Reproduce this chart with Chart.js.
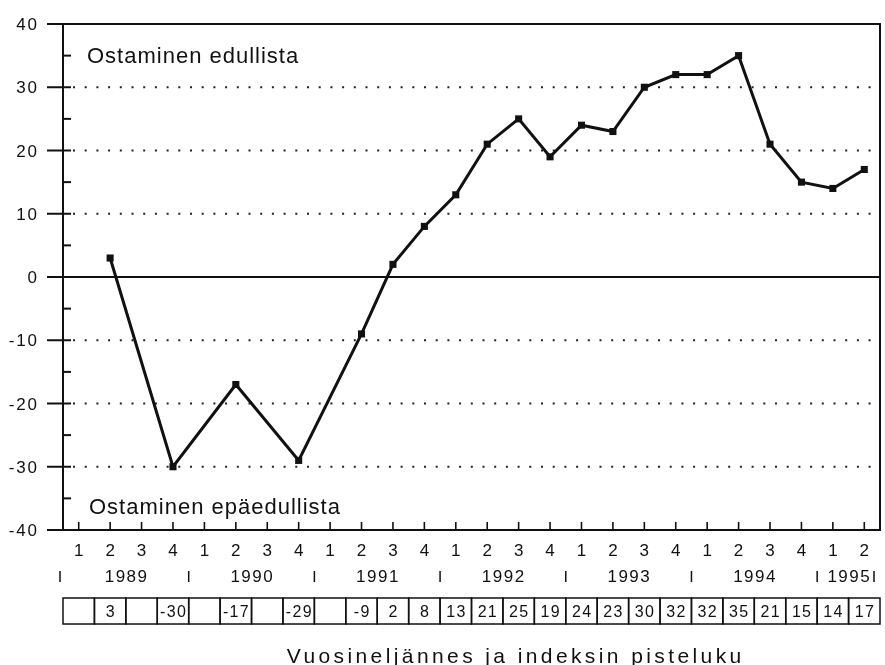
<!DOCTYPE html>
<html lang="fi">
<head>
<meta charset="utf-8">
<title>Ostaminen edullista / epäedullista</title>
<script src="https://cdn.jsdelivr.net/npm/chart.js@4.4.1/dist/chart.umd.min.js"></script>
<style>
  html, body { margin: 0; padding: 0; background: #fff; }
  #kuvio { display: block; }
</style>
</head>
<body>
<canvas id="kuvio" width="885" height="665"></canvas>
<script>
// Aineisto
const neljannekset = ["1","2","3","4","1","2","3","4","1","2","3","4","1","2","3","4","1","2","3","4","1","2","3","4","1","2"];
const vuodet = ["1989","1990","1991","1992","1993","1994","1995"];
const pisteluku = [null,3,null,-30,null,-17,null,-29,null,-9,2,8,13,21,25,19,24,23,30,32,32,35,21,15,14,17];
const yArvot = [40,30,20,10,0,-10,-20,-30,-40];
const pisteviivat = [30,20,10,-10,-20,-30];
const tekstiYla = "Ostaminen edullista";
const tekstiAla = "Ostaminen epäedullista";
const akselinNimi = "Vuosineljännes ja indeksin pisteluku";

const FONTTI = '"Liberation Sans", Arial, Helvetica, sans-serif';
const MUSTA = "#111";

// Apufunktio tekstille (kirjainväli jos selain tukee)
const teksti = (ctx, t, x, y, koko, tasaus, vali) => {
  ctx.font = `${koko}px ${FONTTI}`;
  ctx.textAlign = tasaus;
  ctx.textBaseline = "alphabetic";
  if ("letterSpacing" in ctx) ctx.letterSpacing = `${vali}px`;
  let xx = x;
  // letterSpacing lisää välin myös viimeisen merkin perään
  if ("letterSpacing" in ctx && tasaus === "center") xx += vali / 2;
  if ("letterSpacing" in ctx && tasaus === "right") xx += vali;
  ctx.fillText(t, xx, y);
  if ("letterSpacing" in ctx) ctx.letterSpacing = "0px";
};

// Kehys, viivat ja taulukko piirretään skaalojen avulla
const kehys = {
  id: "kehys",
  beforeDatasetsDraw(chart) {
    const { ctx, chartArea: a, scales: { x, y } } = chart;
    ctx.save();

    // Pisteviivat
    ctx.strokeStyle = "#222";
    ctx.lineWidth = 2;
    ctx.setLineDash([2, 9.7]);
    pisteviivat.forEach((v) => {
      const py = y.getPixelForValue(v);
      ctx.beginPath();
      ctx.moveTo(a.left + 10, py);
      ctx.lineTo(a.right - 6, py);
      ctx.stroke();
    });
    ctx.setLineDash([]);

    // Nollaviiva
    ctx.strokeStyle = MUSTA;
    ctx.lineWidth = 1.8;
    const y0 = y.getPixelForValue(0);
    ctx.beginPath();
    ctx.moveTo(a.left - 16, y0);
    ctx.lineTo(a.right, y0);
    ctx.stroke();

    // Kehys
    ctx.lineWidth = 2;
    ctx.strokeRect(a.left, a.top, a.right - a.left, a.bottom - a.top);

    // Y-akselin jakoviivat
    yArvot.forEach((v) => {
      const py = y.getPixelForValue(v);
      ctx.beginPath();
      ctx.moveTo(a.left - 16, py);
      ctx.lineTo(a.left + 8, py);
      ctx.stroke();
      if (v > -40) {
        const pm = y.getPixelForValue(v - 5);
        ctx.beginPath();
        ctx.moveTo(a.left, pm);
        ctx.lineTo(a.left + 8, pm);
        ctx.stroke();
      }
    });

    // X-akselin jakoviivat
    ctx.lineWidth = 1.6;
    neljannekset.forEach((_, i) => {
      const px = x.getPixelForValue(i);
      ctx.beginPath();
      ctx.moveTo(px, a.bottom - 8);
      ctx.lineTo(px, a.bottom);
      ctx.stroke();
    });

    ctx.restore();
  },
  afterDraw(chart) {
    const { ctx, chartArea: a, scales: { x, y } } = chart;
    ctx.save();
    ctx.fillStyle = MUSTA;
    ctx.strokeStyle = MUSTA;

    // Y-akselin luvut
    yArvot.forEach((v) => {
      teksti(ctx, String(v), a.left - 26, y.getPixelForValue(v) + 6, 17, "right", 1.8);
    });

    // Selitetekstit
    teksti(ctx, tekstiYla, a.left + 24, 63, 22, "left", 1);
    teksti(ctx, tekstiAla, a.left + 26, 514, 22, "left", 1);

    const askel = x.getPixelForValue(1) - x.getPixelForValue(0);

    // Neljännekset
    neljannekset.forEach((q, i) => {
      teksti(ctx, q, x.getPixelForValue(i), a.bottom + 26, 17, "center", 0);
    });

    // Vuodet ja erottimet
    ctx.lineWidth = 1.5;
    const erotin = (px) => {
      ctx.beginPath();
      ctx.moveTo(px, a.bottom + 41);
      ctx.lineTo(px, a.bottom + 52);
      ctx.stroke();
    };
    vuodet.forEach((v, k) => {
      const alku = k * 4;
      const loppu = Math.min(alku + 3, neljannekset.length - 1);
      const keski = (x.getPixelForValue(alku) + x.getPixelForValue(loppu)) / 2;
      teksti(ctx, v, keski, a.bottom + 52, 17, "center", 1.5);
      erotin(x.getPixelForValue(alku) - askel / 2 - (k === 0 ? 3 : 0));
    });
    erotin(x.getPixelForValue(neljannekset.length - 1) + askel / 2 - 6);

    // Pistelukutaulukko
    ctx.lineWidth = 1.5;
    const tYla = a.bottom + 68;
    const tKork = 26;
    pisteluku.forEach((v, i) => {
      const px = x.getPixelForValue(i);
      ctx.strokeRect(px - askel / 2, tYla, askel, tKork);
      if (v !== null) {
        teksti(ctx, String(v), px, tYla + 19, 16, "center", 1.3);
      }
    });

    // Akselin nimi
    teksti(ctx, akselinNimi, 514, 663, 21, "center", 3.4);

    ctx.restore();
  },
};

const ctx = document.querySelector("#kuvio").getContext("2d");

new Chart(ctx, {
  type: "line",
  data: {
    labels: neljannekset,
    datasets: [
      {
        label: "Pisteluku",
        data: pisteluku,
        spanGaps: true,
        borderColor: MUSTA,
        borderWidth: 3,
        tension: 0,
        fill: false,
        pointStyle: "rect",
        pointRadius: 5,
        pointBorderWidth: 0,
        pointBackgroundColor: MUSTA,
      },
    ],
  },
  options: {
    responsive: false,
    animation: false,
    layout: {
      padding: { left: 63, right: 2, top: 24, bottom: 135 },
    },
    scales: {
      x: { type: "category", offset: true, display: false },
      y: { min: -40, max: 40, display: false },
    },
    plugins: {
      legend: { display: false },
      tooltip: { enabled: false },
    },
  },
  plugins: [kehys],
});
</script>
</body>
</html>
